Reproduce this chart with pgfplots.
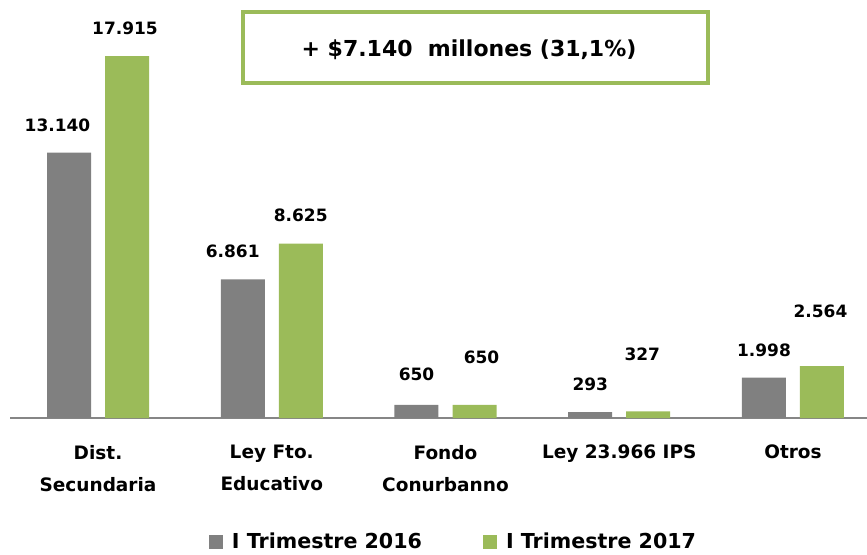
\documentclass[border=0pt]{standalone}
\usepackage{fontspec}
\setmainfont{DejaVu Sans}
\usepackage{pgfplots}
\usepackage{pgfplotstable}
\pgfplotsset{compat=1.18}
\definecolor{bargray}{RGB}{128,128,128}
\definecolor{bargreen}{RGB}{155,187,89}
\definecolor{axgray}{RGB}{134,134,134}
\pgfplotstableread{
x y lab dx dy
0 13140 13.140 -11.5 27.5
1 6861 6.861 -10 28.5
2 650 650 0 31
3 293 293 0 28
4 1998 1.998 0 27.5
}\tA
\pgfplotstableread{
x y lab dx dy
0 17915 17.915 -2 27.5
1 8625 8.625 0 28.5
2 650 650 7 48
3 327 327 -6 57
4 2564 2.564 -1.5 54.5
}\tB
\begin{document}
\begin{tikzpicture}[x=1pt,y=1pt]
\path[use as bounding box] (0,0) rectangle (867,554);
\begin{axis}[
  at={(10pt,136pt)}, anchor=south west,
  scale only axis, width=857pt, height=418pt,
  xmin=-0.5065, xmax=4.426, ymin=0, ymax=20690,
  axis y line=none, axis x line=bottom,
  x axis line style={-, draw=axgray, line width=1.5pt},
  xtick={0,1,2,3,4},
  xticklabels={{Dist.\\Secundaria},{Ley Fto.\\Educativo},{Fondo\\Conurbanno},{Ley 23.966 IPS},{Otros}},
  xticklabel style={align=center, anchor=north, inner sep=0pt, yshift=-27pt,
    font=\fontsize{18.5}{32}\selectfont\bfseries, text=black},
  major tick length=0pt, ytick=\empty,
  ybar, bar width=44pt,
  nodes near coords, point meta=explicit symbolic,
  visualization depends on={\thisrow{dx} \as \dx},
  visualization depends on={\thisrow{dy} \as \dy},
  nodes near coords style={anchor=center, xshift=\dx pt, yshift=\dy pt,
    font=\fontsize{17}{20}\selectfont\bfseries, text=black, inner sep=0pt},
  legend style={at={(axis description cs:0.5175,-0.296)}, anchor=center,
    draw=none, fill=none, legend columns=2,
    font=\fontsize{20.6}{24}\selectfont\bfseries,
    /tikz/every odd column/.append style={column sep=7pt},
    /tikz/every even column/.append style={column sep=59pt}},
  legend image code/.code={\fill[#1] (0pt,-7pt) rectangle (14pt,7pt);},
]
\addplot[fill=bargray, draw=none, bar shift=-29pt] table[x=x,y=y,meta=lab]{\tA};
\addplot[fill=bargreen, draw=none, bar shift=29pt] table[x=x,y=y,meta=lab]{\tB};
\legend{I Trimestre 2016, I Trimestre 2017}
\end{axis}
\draw[bargreen, line width=3.5pt] (243,471) rectangle (708,542);
\node[font=\fontsize{22}{26}\selectfont\bfseries, text=black] at (469,504) {+ \$7.140~~millones (31,1\%)};
\end{tikzpicture}
\end{document}
